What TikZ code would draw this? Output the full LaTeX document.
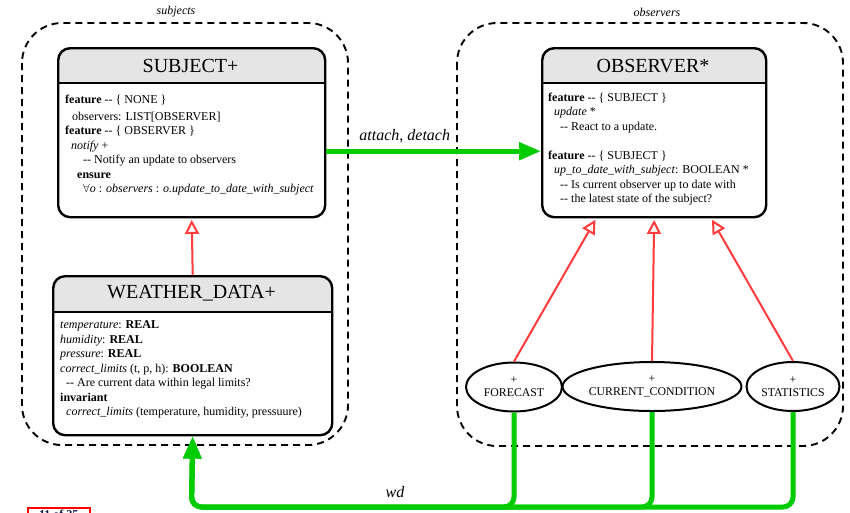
\documentclass[tikz,border=0pt]{standalone}
\usepackage{fontspec}
\setmainfont{Liberation Serif}
\usetikzlibrary{arrows.meta,shapes.geometric}
\definecolor{hdr}{HTML}{E5E5E5}
\definecolor{inh}{HTML}{FF3B3B}
\definecolor{cli}{HTML}{00CC00}
\definecolor{navy}{HTML}{101040}
\begin{document}
\begin{tikzpicture}[x=1pt,y=-1pt,
  cluster/.style={draw, line width=1.9pt, dash pattern=on 7pt off 5pt, rounded corners=40pt},
  clslabel/.style={font=\fontsize{12}{14}\selectfont\itshape},
  classbox/.style={draw, line width=2.4pt, rounded corners=12pt, anchor=north west, inner sep=0pt},
  title/.style={font=\fontsize{20}{24}\selectfont},
  body/.style={anchor=north west, align=left, inner sep=0pt, font=\fontsize{12}{14.5}\selectfont},
  leaf/.style={ellipse, draw, line width=2pt, inner sep=0pt, align=center, minimum height=49pt, font=\fontsize{11.8}{13}\selectfont},
  inherit/.style={draw=inh, line width=2pt, shorten >=1.5pt, -{Triangle[open, width=14pt, length=14pt, line width=2pt]}},
  client/.style={draw=cli, line width=5pt, -{Triangle[width=17pt, length=22pt]}},
]
\useasboundingbox (0,0) rectangle (850,512);
\clip (0,0) rectangle (850,512);
\fill[white] (0,0) rectangle (850,512);

% clusters
\draw[cluster] (22,23) rectangle (348,445);
\node[clslabel] (lsubj) at (176,12) {subjects};
\draw[cluster] (457,23) rectangle (843,446);
\node[clslabel] (lobs) at (657,12) {observers};

% SUBJECT+
\begin{scope}
  \clip[rounded corners=12pt] (57,47) rectangle (324,216);
  \fill[hdr] (57,47) rectangle (324,83);
\end{scope}
\node[classbox, minimum width=267pt, minimum height=169pt] (subj) at (57,47) {};
\draw[line width=2.4pt] (57,83) -- (324,83);
\node[title] (subjt) at (190.5,66) {SUBJECT+};
\node[body] (subjb) at (65,94.5) {%
\textbf{feature} -{}- \{ NONE \}\\[2.5pt]
\hspace*{7pt}observers: LIST[OBSERVER]\\
\textbf{feature} -{}- \{ OBSERVER \}\\
\hspace*{6pt}\textit{notify} +\\
\hspace*{18pt}-{}- Notify an update to observers\\
\hspace*{12pt}\textbf{ensure}\\
\hspace*{18pt}{\large$\forall$}\textit{o} : \textit{observers} : \textit{o.update\_to\_date\_with\_subject}};

% WEATHER_DATA+
\begin{scope}
  \clip[rounded corners=12pt] (52,275) rectangle (331,434);
  \fill[hdr] (52,275) rectangle (331,312);
\end{scope}
\node[classbox, minimum width=279pt, minimum height=159pt] (wd) at (52,275) {};
\draw[line width=2.4pt] (52,312) -- (331,312);
\node[title] (wdt) at (191.5,293.5) {WEATHER\_DATA+};
\node[body] (wdb) at (60,320.5) {%
\textit{temperature}: \textbf{REAL}\\
\textit{humidity}: \textbf{REAL}\\
\textit{pressure}: \textbf{REAL}\\
\textit{correct\_limits} (t, p, h): \textbf{BOOLEAN}\\
\hspace*{6pt}-{}- Are current data within legal limits?\\
\textbf{invariant}\\
\hspace*{6pt}\textit{correct\_limits} (temperature, humidity, pressuure)};

% OBSERVER*
\begin{scope}
  \clip[rounded corners=12pt] (541,47) rectangle (765,216);
  \fill[hdr] (541,47) rectangle (765,83);
\end{scope}
\node[classbox, minimum width=224pt, minimum height=169pt] (obs) at (541,47) {};
\draw[line width=2.4pt] (541,83) -- (765,83);
\node[title] (obst) at (653,66) {OBSERVER*};
\node[body] (obsb) at (548,92.5) {%
\textbf{feature} -{}- \{ SUBJECT \}\\
\hspace*{6pt}\textit{update} *\\
\hspace*{12pt}-{}- React to a update.\\[14.5pt]
\textbf{feature} -{}- \{ SUBJECT \}\\
\hspace*{6pt}\textit{up\_to\_date\_with\_subject}: BOOLEAN *\\
\hspace*{12pt}-{}- Is current observer up to date with\\
\hspace*{12pt}-{}- the latest state of the subject?};

% leaves
\node[leaf, minimum width=96pt] (fc) at (514,387) {+\\FORECAST};
\node[leaf, minimum width=170pt] (cn) at (652,386.5) {+\\CURRENT\_CONDITION};
\node[leaf, minimum width=93pt] (st) at (793,386.5) {+\\STATISTICS};

% inheritance
\draw[inherit] (wd.north) -- (subj.south);
\draw[inherit] (fc.north) -- ([xshift=-58pt]obs.south);
\draw[inherit] (cn.north) -- (obs.south);
\draw[inherit] (st.north) -- ([xshift=57pt]obs.south);

% client: attach, detach
\draw[client] ([yshift=-18.5pt]subj.east) -- ([yshift=-18.5pt]obs.west)
  node[pos=0.365, yshift=15pt, font=\fontsize{16}{18}\selectfont\itshape, text=black] (ad) {attach\upshape,\itshape{} detach};

% client: wd
\coordinate (bot) at (191.5,507);
\draw[client, rounded corners=10pt] (fc.south) |- (bot) -- (wd.south);
\draw[client, rounded corners=10pt] (cn.south) |- (bot) -- (wd.south);
\draw[client, rounded corners=10pt] (st.south) |- (bot) -- (wd.south);
\node[font=\fontsize{16}{18}\selectfont\itshape] (wdl) at (395,492) {wd};

% page counter (cut off at the page edge, as in the reference)
\node[draw=red, line width=1.5pt, fill=white, inner sep=2pt, anchor=north west, minimum width=62pt, text=navy, font=\fontsize{12}{14}\selectfont\bfseries] (pg) at (27,507) {11 of 25};
\end{tikzpicture}
\end{document}
